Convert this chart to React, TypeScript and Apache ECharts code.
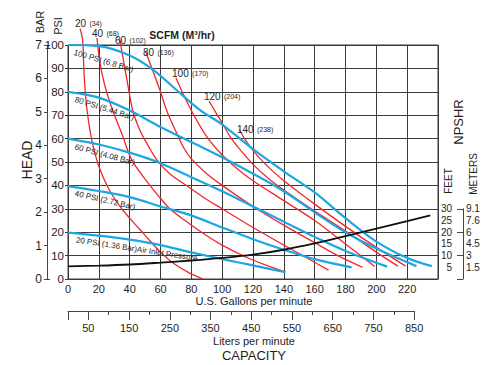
import React, { useEffect, useRef } from "react";
import * as echarts from "echarts";

// ---------- DATA (x = U.S. gallons per minute, y = PSI / feet) ----------
const literTicks = ["0","50","100","150","200","250","300","350","400","450","500","550","600","650","700","750","800","850"];
const meterLabels = ["", "1.5", "3", "4.5", "6", "7.6", "9.1"]; // for 0,5,10,...,30 feet

// Air inlet pressure curves (blue)
const psi100 = [[0,100],[20,99.5],[40,95.5],[55,89.5],[70,81],[85,72.5],[100,66],[120,55.5],[140,46],[160,37],[180,26],[200,16],[220,9],[236,5.5]];
const psi80 = [[0,80],[20,77.5],[40,72],[60,65],[80,58.5],[100,52],[120,45],[140,37.5],[160,28.5],[180,20],[200,13],[226,5.5]];
const psi60 = [[0,60],[20,57.5],[40,54],[60,49.5],[80,43.5],[100,37.5],[120,31],[140,24.5],[160,18],[180,12],[207,5.3]];
const psi40 = [[0,39.7],[20,37.6],[40,35],[60,31],[79,27.4],[100,22],[120,17],[140,12.5],[160,8.5],[184,5]];
const psi20 = [[0,19.8],[20,18.5],[40,16.8],[60,14.5],[80,11.4],[100,8.5],[120,5.8],[141,2.9]];

// Air consumption curves (red), SCFM
const scfm20 = [[7.8,107],[9.5,102],[10.4,88],[12.1,73.6],[15.4,59.4],[19.7,48.7],[26,39],[33.8,30.9],[40,26],[48.9,19.5],[60,11.5],[68.4,6.7],[78,2.8],[87.7,0]];
const scfm40 = [[18.8,103],[20,96],[22,88],[25,80],[29,72],[35,62],[41.3,51],[52,41],[60,34.5],[66,30],[79,23.5],[90,18.5],[100,14.5],[115,9.5],[128,6],[141,3]];
const scfm60 = [[33.5,103],[35,97],[38,86],[42,72],[47,63],[52,57],[57.5,51],[66,45],[79,39],[90,34],[100,30],[120,22],[140,14.5],[155,9],[169,3.8]];
const scfm80 = [[50.5,97],[55,89],[60,80],[64,72],[70,63],[76,55],[80.5,51],[90,45],[100,40],[120,31],[140,23],[160,15.5],[175,10],[191,5]];
const scfm100 = [[70,86],[75,78.6],[80,72],[86,65],[92,59],[100,53],[110,47],[120,42],[140,33.5],[160,25],[180,15],[199,5.3]];
const scfm120 = [[91.5,76],[96,71],[100.6,66],[106,60],[112,55],[120,49],[130,43],[140,38],[160,29],[180,20.5],[200,11.5],[214,5.5]];
const scfm140 = [[111,64],[115,59.5],[120,55],[126,50.5],[133,46],[140,42],[160,32],[180,22.5],[200,13.5],[219,5.5]];

// NPSHR (feet)
const npshr = [[0,5.4],[20,5.7],[40,6.2],[60,7],[80,7.9],[100,9],[120,10.4],[140,12.5],[160,15.2],[180,18.3],[200,21.5],[220,24.7],[235,27.2]];

// ---------- labels ----------
const pressureNames = ["100 PSI (6.8 Bar)", "80 PSI (5.44 Bar)", "60 PSI (4.08 Bar)", "40 PSI (2.72 Bar)", "20 PSI (1.36 Bar)Air Inlet Pressure"];
const pressureLabelAt = [[3.9,96.9],[4.5,76.8],[4.5,56.5],[4.5,36.6],[5.2,16.7]];
const pressureLabelAngle = [16.4, 17.3, 15, 13, 8.7];

const scfmNames = ["20","40","60","80","100","120","140"];
const m3hNames = ["(34)","(68)","(102)","(136)","(170)","(204)","(238)"];
const scfmLabelAt = [[4.5,109.4],[15.6,105.1],[30.5,102.1],[48.6,97],[67.5,88],[88.2,77.8],[109.6,64.1]];

const blueSeries = [psi100, psi80, psi60, psi40, psi20];
const redSeries = [scfm20, scfm40, scfm60, scfm80, scfm100, scfm120, scfm140];

const FONT = "'Liberation Sans', Arial, Helvetica, sans-serif";
const BLUE = "#1aa7e4";
const RED = "#f2262c";
const GRIDC = "#3a3a3a";
const TXT = "#1e1e1e";

const PLOT = { left: 68, top: 45, width: 370, height: 234 };
const GPM_MAX = 240;
const LPM_PER_GPM = 3.78541;

export default function App() {
  const ref = useRef<HTMLDivElement>(null);
  useEffect(() => {
    const chart = echarts.init(ref.current!, undefined, { renderer: "svg", width: 500, height: 365 });
    const npTop = PLOT.top + PLOT.height * (1 - 30 / 100);
    const literWidth = PLOT.width * 850 / (GPM_MAX * LPM_PER_GPM);
    const lblStyle = { fontFamily: FONT, color: TXT };

    const series: any[] = [];
    redSeries.forEach((d, i) => series.push({
      type: "line", name: scfmNames[i] + " SCFM", data: d, xAxisIndex: 0, yAxisIndex: 0,
      showSymbol: false, symbol: "none", smooth: 0.35, clip: false, silent: true,
      lineStyle: { color: RED, width: 1.3 }, z: 3,
    }));
    blueSeries.forEach((d, i) => series.push({
      type: "line", name: pressureNames[i], data: d, xAxisIndex: 0, yAxisIndex: 0,
      showSymbol: false, symbol: "none", smooth: 0.35, clip: false, silent: true,
      lineStyle: { color: BLUE, width: 2.2 }, z: 4,
    }));
    series.push({
      type: "line", name: "NPSHR", data: npshr, xAxisIndex: 0, yAxisIndex: 3,
      showSymbol: false, symbol: "none", smooth: 0.35, clip: false, silent: true,
      lineStyle: { color: "#111", width: 1.8 }, z: 5,
    });

    chart.setOption({
      animation: false,
      backgroundColor: "#fff",
      textStyle: { fontFamily: FONT },
      grid: [
        { left: PLOT.left, top: PLOT.top, width: PLOT.width, height: PLOT.height, show: true, borderColor: GRIDC, borderWidth: 1, containLabel: false },
        { left: 463, top: npTop, width: 1, height: PLOT.height * 0.3, containLabel: false },
        { left: PLOT.left, top: 309, width: literWidth, height: 2, containLabel: false },
      ],
      xAxis: [
        {
          gridIndex: 0, type: "value", min: 0, max: GPM_MAX, interval: 20,
          axisLine: { show: true, lineStyle: { color: GRIDC } },
          axisTick: { show: false },
          axisLabel: { ...lblStyle, fontSize: 11, margin: 4, showMaxLabel: false },
          splitLine: { show: true, lineStyle: { color: GRIDC, width: 1 } },
        },
        { gridIndex: 1, type: "value", min: 0, max: 1, show: false },
        {
          gridIndex: 2, type: "category", boundaryGap: false, data: literTicks, position: "bottom",
          axisLine: { show: true, lineStyle: { color: "#444" } },
          axisTick: { show: true, length: 4, interval: 0, lineStyle: { color: "#444" } },
          axisLabel: { ...lblStyle, fontSize: 11, margin: 11, interval: (i: number) => i % 2 === 1 },
          splitLine: { show: false },
        },
        {
          gridIndex: 2, type: "category", boundaryGap: false, data: literTicks, position: "bottom",
          axisLine: { show: false },
          axisTick: { show: true, length: 9, interval: (i: number) => i === 0 || i % 2 === 1, lineStyle: { color: "#444" } },
          axisLabel: { show: false },
          splitLine: { show: false },
        },
      ],
      yAxis: [
        {
          gridIndex: 0, type: "value", min: 0, max: 100, interval: 10, position: "left",
          axisLine: { show: true, lineStyle: { color: GRIDC } },
          axisTick: { show: true, length: 3, lineStyle: { color: GRIDC } },
          axisLabel: { ...lblStyle, fontSize: 11.5, margin: 4 },
          splitLine: { show: true, lineStyle: { color: GRIDC, width: 1 } },
        },
        {
          gridIndex: 0, type: "value", min: 0, max: 7, interval: 1, position: "left", offset: 21,
          axisLine: { show: true, lineStyle: { color: "#444" } },
          axisTick: { show: true, length: 3, lineStyle: { color: "#444" } },
          axisLabel: { ...lblStyle, fontSize: 12, margin: 5 },
          splitLine: { show: false },
        },
        {
          gridIndex: 0, type: "value", min: 0, max: 7, interval: 7, position: "left", offset: 21,
          axisLine: { show: false },
          axisTick: { show: true, inside: true, length: 3, lineStyle: { color: "#444" } },
          axisLabel: { show: false },
          splitLine: { show: false },
        },
        { gridIndex: 0, type: "value", min: 0, max: 100, show: false },
        {
          gridIndex: 1, type: "value", min: 0, max: 30, interval: 5, position: "left",
          axisLine: { show: true, lineStyle: { color: "#444" } },
          axisTick: { show: false },
          axisLabel: { ...lblStyle, fontSize: 10, margin: 11, formatter: (v: number) => (v === 0 ? "" : String(v)) },
          splitLine: { show: false },
        },
        {
          gridIndex: 1, type: "value", min: 0, max: 30, interval: 10, position: "left",
          axisLine: { show: false },
          axisTick: { show: true, length: 6, lineStyle: { color: "#444" } },
          axisLabel: { show: false },
          splitLine: { show: false },
        },
        {
          gridIndex: 1, type: "value", min: 0, max: 30, interval: 5, position: "right",
          axisLine: { show: false },
          axisTick: { show: false },
          axisLabel: { ...lblStyle, fontSize: 10, margin: 2, formatter: (v: number) => meterLabels[Math.round(v / 5)] || "" },
          splitLine: { show: false },
        },
        { gridIndex: 2, type: "value", min: 0, max: 1, show: false },
      ],
      series,
    });

    const t = (text: string, x: number, y: number, size: number, rot = 0, weight: any = "normal", align = "center") => ({
      type: "text", x, y, rotation: rot, silent: true, z: 10,
      style: { text, fill: TXT, fontSize: size, fontFamily: FONT, fontWeight: weight, align, verticalAlign: "middle", textAlign: align, textVerticalAlign: "middle" },
    });
    const graphics: any[] = [
      t("BAR", 40, 22, 11, Math.PI / 2),
      t("PSI", 58, 26, 11, Math.PI / 2),
      t("HEAD", 27, 160, 14, Math.PI / 2),
      t("SCFM (M³/hr)", 182, 35, 10.5, 0, "bold"),
      t("U.S. Gallons per minute", 254, 301, 11),
      t("Liters per minute", 254, 341, 11),
      t("CAPACITY", 254, 355, 13),
      t("NPSHR", 458, 122, 13, Math.PI / 2),
      t("FEET", 448, 181, 10, Math.PI / 2),
      t("METERS", 473, 174, 10, Math.PI / 2),
    ];
    pressureNames.forEach((name, i) => {
      const p = chart.convertToPixel({ xAxisIndex: 0, yAxisIndex: 0 }, pressureLabelAt[i]) as number[];
      graphics.push(t(name, p[0], p[1], 8, -pressureLabelAngle[i] * Math.PI / 180, "normal", "left"));
    });
    scfmNames.forEach((name, i) => {
      const p = chart.convertToPixel({ xAxisIndex: 0, yAxisIndex: 0 }, scfmLabelAt[i]) as number[];
      graphics.push({
        type: "text", x: p[0], y: p[1], silent: true, z: 10,
        style: {
          text: `{a|${name}} {b|${m3hNames[i]}}`, fill: TXT, fontFamily: FONT, align: "left", verticalAlign: "middle",
          textAlign: "left", textVerticalAlign: "middle",
          rich: { a: { fontSize: 10, fontFamily: FONT, fill: TXT }, b: { fontSize: 7, fontFamily: FONT, fill: TXT } },
        },
      });
    });
    chart.setOption({ graphic: graphics });
    return () => chart.dispose();
  }, []);
  return <div ref={ref} style={{ position: "fixed", left: 0, top: 0, width: 500, height: 365, background: "#fff" }} />;
}
